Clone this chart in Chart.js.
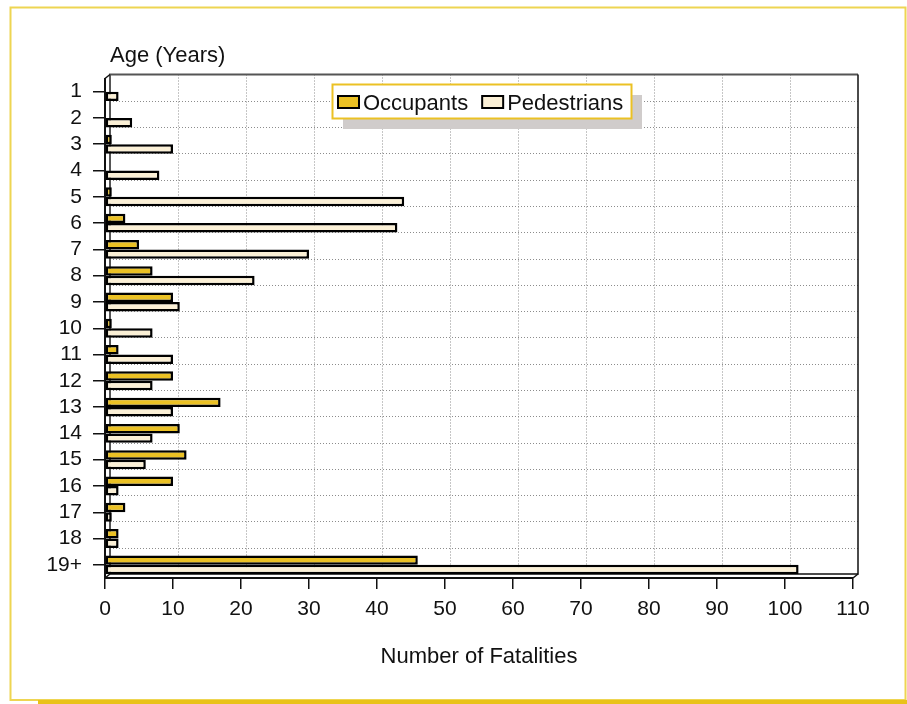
<!DOCTYPE html>
<html>
<head>
<meta charset="utf-8">
<script src="https://cdn.jsdelivr.net/npm/chart.js@4.4.1/dist/chart.umd.min.js"></script>
<style>
  html, body { margin: 0; padding: 0; background: #fff; }
  #wrap { width: 907px; height: 704px; position: relative; }
</style>
</head>
<body>
<div id="wrap"><canvas id="fatalChart"></canvas></div>
<script>
// Ages and fatalities
const ages = ["1", "2", "3", "4", "5", "6", "7", "8", "9", "10", "11", "12", "13", "14", "15", "16", "17", "18", "19+"];
const occupants = [0, 0, 1, 0, 1, 3, 5, 7, 10, 1, 2, 10, 17, 11, 12, 10, 3, 2, 46];
const pedestrians = [2, 4, 10, 8, 44, 43, 30, 22, 11, 7, 10, 7, 10, 7, 6, 2, 1, 2, 102];
const xTicks = [0, 10, 20, 30, 40, 50, 60, 70, 80, 90, 100, 110];

const GOLD = "#EBC124";
const CREAM = "#FBF0D6";
const FONT = "'Liberation Sans', Arial, Helvetica, sans-serif";
const DX = 5, DY = -4; // depth of the back wall

Chart.defaults.font.family = FONT;
Chart.defaults.color = "#111";

// yellow page frame, back wall and dotted grid
const framePlugin = {
    id: "frame",
    beforeDraw(chart) {
        const c = chart.ctx;
        c.save();
        c.fillStyle = "#fff";
        c.fillRect(0, 0, chart.width, chart.height);
        c.strokeStyle = "#EED552";
        c.lineWidth = 2;
        c.strokeRect(10.5, 7.5, 895, 692.5);
        c.strokeStyle = "#E9C21A";
        c.lineWidth = 4;
        c.beginPath();
        c.moveTo(38, 702);
        c.lineTo(907, 702);
        c.stroke();
        c.restore();
    },
    beforeDatasetsDraw(chart) {
        const c = chart.ctx;
        const a = chart.chartArea;
        const xs = chart.scales.x, ys = chart.scales.y;
        c.save();

        // dotted grid on back wall
        c.strokeStyle = "#8c8c8c";
        c.lineWidth = 1;
        c.setLineDash([1, 2]);
        xTicks.slice(1, -1).forEach(v => {
            const px = Math.round(xs.getPixelForValue(v) + DX) + 0.5;
            c.beginPath();
            c.moveTo(px, a.top + DY);
            c.lineTo(px, a.bottom + DY);
            c.stroke();
        });
        for (let i = 0; i < ages.length - 1; i++) {
            const py = Math.round((ys.getPixelForValue(i) + ys.getPixelForValue(i + 1)) / 2 + DY) + 0.5;
            c.beginPath();
            c.moveTo(a.left + DX, py);
            c.lineTo(a.right + DX, py);
            c.stroke();
        }
        c.setLineDash([]);

        // back wall outline
        c.strokeStyle = "#555";
        c.lineWidth = 2;
        c.beginPath();
        c.moveTo(a.left + DX, a.bottom + DY);
        c.lineTo(a.left + DX, a.top + DY);
        c.lineTo(a.right + DX, a.top + DY);
        c.stroke();
        c.strokeStyle = "#111";
        c.lineWidth = 1.5;
        c.beginPath();
        c.moveTo(a.right + DX, a.top + DY);
        c.lineTo(a.right + DX, a.bottom + DY);
        c.lineTo(a.left + DX, a.bottom + DY);
        c.stroke();

        // depth edges
        c.beginPath();
        c.moveTo(a.left, a.top);
        c.lineTo(a.left + DX, a.top + DY);
        c.moveTo(a.left, a.bottom);
        c.lineTo(a.left + DX, a.bottom + DY);
        c.moveTo(a.right, a.bottom);
        c.lineTo(a.right + DX, a.bottom + DY);
        c.stroke();
        c.restore();
    },
    afterDraw(chart) {
        const c = chart.ctx;
        c.save();

        // horizontal title for the category axis
        c.fillStyle = "#111";
        c.font = "22px " + FONT;
        c.textBaseline = "alphabetic";
        c.fillText("Age (Years)", 110, 62);

        // legend box with shadow
        const lx = 332, ly = 84, lw = 299, lh = 34;
        c.fillStyle = "#D0CCCB";
        c.fillRect(lx + 11, ly + 11, lw, lh);
        c.fillStyle = "#fff";
        c.fillRect(lx, ly, lw, lh);
        c.strokeStyle = GOLD;
        c.lineWidth = 2;
        c.strokeRect(lx + 0.5, ly + 0.5, lw, lh);

        let x = lx + 6;
        chart.data.datasets.forEach(ds => {
            c.fillStyle = ds.backgroundColor;
            c.fillRect(x, ly + 12, 21, 12);
            c.strokeStyle = "#000";
            c.lineWidth = 2;
            c.strokeRect(x, ly + 12, 21, 12);
            c.fillStyle = "#111";
            c.font = "22px " + FONT;
            c.fillText(ds.label, x + 25, ly + 26);
            x += 25 + c.measureText(ds.label).width + 14;
        });
        c.restore();
    }
};

const ctx = document.getElementById("fatalChart").getContext("2d");
const fatalChart = new Chart(ctx, {
    type: "bar",
    data: {
        labels: ages,
        datasets: [
            {
                label: "Occupants",
                data: occupants,
                backgroundColor: GOLD,
                borderColor: "#000",
                borderWidth: 2.5,
                borderSkipped: false
            },
            {
                label: "Pedestrians",
                data: pedestrians,
                backgroundColor: CREAM,
                borderColor: "#000",
                borderWidth: 2.5,
                borderSkipped: false
            }
        ]
    },
    options: {
        indexAxis: "y",
        responsive: true,
        maintainAspectRatio: false,
        animation: false,
        datasets: {
            bar: { categoryPercentage: 0.72, barPercentage: 1.0 }
        },
        layout: {
            padding: { left: 0, right: 54, top: 78.5, bottom: 30 }
        },
        plugins: {
            legend: { display: false },
            tooltip: { enabled: false }
        },
        scales: {
            x: {
                type: "linear",
                min: 0,
                max: 110,
                afterFit: s => { s.height = 96; },
                afterBuildTicks: s => { s.ticks = xTicks.map(v => ({ value: v })); },
                ticks: { font: { size: 21 }, padding: 8, color: "#111" },
                grid: {
                    drawOnChartArea: false,
                    drawTicks: true,
                    tickLength: 11,
                    color: "#111",
                    lineWidth: 1.5
                },
                border: { display: true, color: "#111", width: 2 },
                title: {
                    display: true,
                    text: "Number of Fatalities",
                    font: { size: 22 },
                    color: "#111",
                    padding: { top: 4, bottom: 4 }
                }
            },
            y: {
                afterFit: s => { s.width = 105; },
                ticks: { font: { size: 21 }, padding: 11, color: "#111", autoSkip: false },
                grid: {
                    offset: false,
                    drawOnChartArea: false,
                    drawTicks: true,
                    tickLength: 12,
                    color: "#111",
                    lineWidth: 1.5
                },
                border: { display: true, color: "#111", width: 2 }
            }
        }
    },
    plugins: [framePlugin]
});
</script>
</body>
</html>
